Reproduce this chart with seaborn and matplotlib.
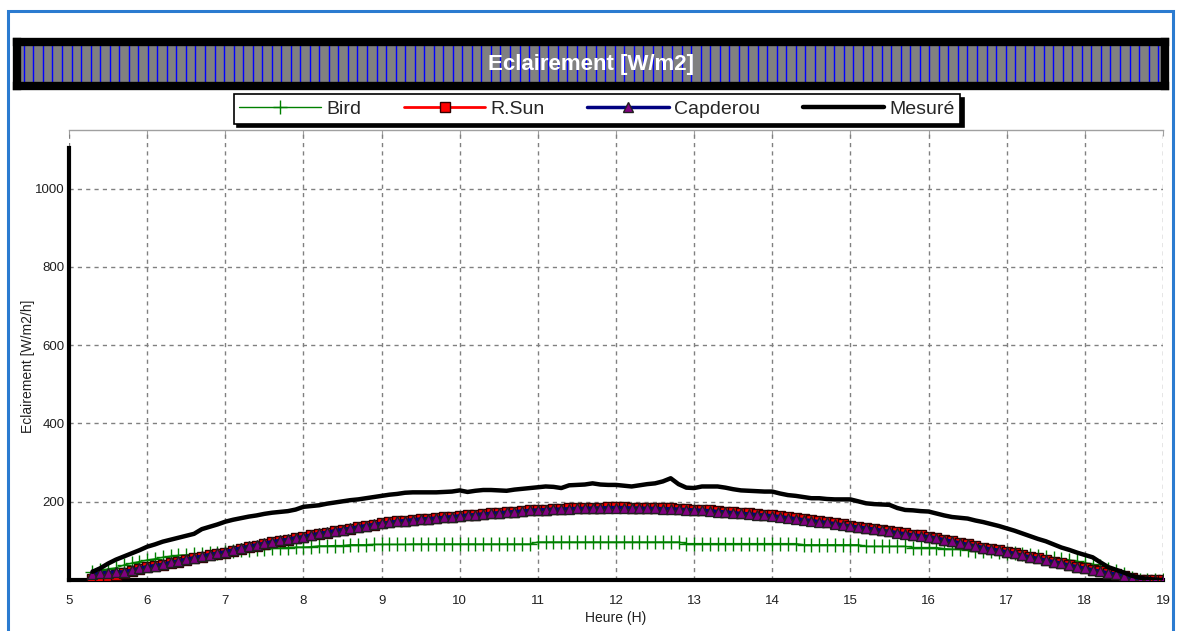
import numpy as np
import pandas as pd
import matplotlib
matplotlib.use("Agg")
import matplotlib.pyplot as plt
import seaborn as sns
from matplotlib.patches import Rectangle

# ---------------- data ----------------
hours = np.round(np.arange(5.3, 19.05, 0.1), 1)

bird = [21, 25, 28, 31, 38, 43, 47,
        51, 54, 58, 61, 63, 64, 66, 67, 69, 70,
        72, 74, 76, 77, 79, 80, 81, 82, 83, 84,
        84, 85, 87, 87, 88, 88, 90, 90, 90, 91,
        91, 91, 91, 91, 92, 92, 92, 92, 92, 92,
        92, 92, 92, 92, 92, 92, 92, 92, 92, 92,
        97, 97, 97, 97, 97, 97, 97, 97, 97, 97,
        97, 97, 97, 97, 97, 97, 97, 97, 97, 93,
        93, 93, 93, 93, 93, 93, 93, 93, 93, 93,
        93, 93, 93, 93, 90, 90, 90, 90, 90, 90,
        90, 90, 86, 86, 86, 86, 86, 86, 83, 83,
        83, 83, 80, 79, 78, 77, 75, 74, 73, 71,
        70, 68, 66, 64, 62, 59, 57, 54, 51, 48,
        44, 40, 35, 28, 22, 15, 5, 0, 0, 0,
        0]

rsun = [3, 6, 10, 14, 18, 23, 28,
        32, 35, 38, 43, 47, 51, 55, 59, 63, 67,
        70, 75, 80, 84, 88, 92, 96, 100, 103, 107,
        110, 114, 118, 121, 125, 128, 131, 135, 138, 141,
        145, 147, 150, 152, 154, 156, 157, 158, 160, 162,
        164, 166, 167, 169, 170, 172, 173, 175, 176, 178,
        179, 180, 181, 182, 183, 184, 184, 185, 185, 186,
        186, 186, 185, 185, 184, 184, 183, 183, 182, 181,
        180, 179, 178, 176, 175, 173, 171, 170, 168, 167,
        165, 163, 160, 158, 155, 153, 150, 148, 145, 142,
        139, 136, 134, 131, 128, 125, 122, 119, 116, 114,
        111, 107, 103, 99, 95, 91, 87, 83, 79, 76,
        72, 68, 63, 59, 55, 51, 47, 43, 38, 34,
        30, 26, 22, 18, 15, 11, 5, 0, 0, 0,
        0]

capderou = [15, 17, 19, 20, 21, 25, 30,
            34, 37, 40, 45, 49, 53, 57, 61, 65, 69,
            72, 77, 82, 86, 90, 94, 98, 101, 104, 108,
            111, 115, 119, 122, 126, 129, 132, 136, 139, 142,
            145, 147, 150, 152, 154, 156, 157, 158, 160, 162,
            164, 166, 167, 169, 170, 172, 173, 175, 176, 178,
            179, 180, 181, 181, 182, 183, 183, 184, 184, 185,
            185, 185, 184, 184, 183, 183, 182, 182, 181, 180,
            179, 178, 177, 175, 174, 172, 170, 169, 167, 166,
            164, 162, 159, 157, 154, 152, 149, 147, 144, 141,
            138, 135, 133, 130, 127, 124, 121, 118, 115, 113,
            111, 107, 103, 99, 95, 91, 87, 83, 79, 76,
            72, 68, 63, 59, 55, 51, 47, 43, 38, 34,
            30, 26, 22, 18, 15, 11, 5, 0, 0, 0,
            0]

mesure = [21, 30, 42, 52, 60, 68, 76,
          85, 91, 98, 103, 108, 113, 118, 130, 136, 142,
          149, 154, 158, 162, 165, 169, 172, 174, 176, 180,
          187, 189, 191, 195, 198, 201, 204, 206, 209, 212,
          215, 218, 220, 223, 224, 224, 224, 224, 225, 226,
          229, 225, 228, 230, 230, 229, 228, 231, 233, 235,
          237, 239, 238, 235, 242, 243, 244, 247, 244, 243,
          243, 241, 239, 242, 245, 247, 252, 260, 245, 236,
          235, 239, 239, 239, 236, 232, 229, 228, 227, 226,
          226, 221, 217, 215, 212, 209, 209, 207, 206, 206,
          206, 201, 196, 194, 193, 192, 184, 179, 178, 176,
          175, 170, 165, 161, 159, 157, 152, 148, 143, 138,
          132, 126, 119, 112, 105, 99, 91, 83, 77, 70,
          64, 58, 45, 33, 26, 19, 11, 6, 3, 1,
          0]

series_names = ["Bird", "R.Sun", "Capderou", "Mesuré"]
title_text = "Eclairement [W/m2]"
x_label = "Heure (H)"
y_label = "Eclairement [W/m2/h]"
x_ticks = list(range(5, 20))
y_ticks = [200, 400, 600, 800, 1000]

df = pd.DataFrame({"h": hours, "Bird": bird, "R.Sun": rsun,
                   "Capderou": capderou, "Mesuré": mesure})

# ---------------- style ----------------
sns.set_style("white")
plt.rcParams["font.family"] = ["Liberation Sans", "DejaVu Sans"]

W, H = 1179, 631
fig = plt.figure(figsize=(W / 100, H / 100), dpi=100)
fig.patch.set_facecolor("white")

def fx(px):
    return px / W

def fy(py):
    return 1 - py / H

# outer blue frame
fig.patches.append(Rectangle((fx(8), -0.02), fx(1173 - 8), fy(11) + 0.02,
                             transform=fig.transFigure, fill=False,
                             edgecolor="#2b7bd0", linewidth=2.2, zorder=0))

# title banner
bax = fig.add_axes([fx(17), fy(86), fx(1165 - 17), (86 - 42) / H])
bax.set_facecolor("#808080")
bax.set_xlim(0, 1)
bax.set_ylim(0, 1)
bax.vlines(np.linspace(0.006, 0.994, 120), 0, 1, colors="#0000ff", linewidth=1.0)
bax.set_xticks([])
bax.set_yticks([])
for s in bax.spines.values():
    s.set_color("black")
    s.set_linewidth(6)
bax.text(0.5, 0.48, title_text, ha="center", va="center", color="white",
         fontsize=16, fontweight="bold")

# main axes
ax = fig.add_axes([fx(69), fy(580), fx(1163 - 69), (580 - 130) / H])

sns.lineplot(data=df, x="h", y="Bird", ax=ax, color="#008000", linewidth=1.0,
             marker="+", markersize=10, markeredgecolor="#008000",
             markeredgewidth=1.0, label="Bird", zorder=3)
sns.lineplot(data=df, x="h", y="R.Sun", ax=ax, color="#ff0000", linewidth=2.0,
             marker="s", markersize=6.5, markerfacecolor="#ff0000",
             markeredgecolor="#300000", markeredgewidth=1.0, label="R.Sun", zorder=4)
sns.lineplot(data=df, x="h", y="Capderou", ax=ax, color="#000080", linewidth=2.5,
             marker="^", markersize=7.5, markerfacecolor="#800080",
             markeredgecolor="#202020", markeredgewidth=1.0, label="Capderou", zorder=5)
sns.lineplot(data=df, x="h", y="Mesuré", ax=ax, color="black", linewidth=3.2,
             label="Mesuré", zorder=6)

ax.set_xlim(5, 19)
ax.set_ylim(0, 1150)
ax.set_xticks(x_ticks)
ax.set_xticks(np.arange(5, 19.01, 0.25), minor=True)
ax.set_yticks(y_ticks)
ax.tick_params(axis="x", which="major", direction="out", length=5, width=1,
               labelsize=9.5, pad=6, colors="#404040", labelcolor="#202020")
ax.tick_params(axis="x", which="minor", direction="out", length=3, width=1, colors="#404040")
ax.tick_params(axis="y", which="major", direction="out", length=2, width=1,
               labelsize=9.5, pad=1, colors="#404040", labelcolor="#202020")
ax.grid(True, which="major", color="#808080", linestyle=(0, (3, 3)), linewidth=1.0)
ax.set_axisbelow(True)

ax.spines["left"].set_color("black")
ax.spines["left"].set_linewidth(3)
ax.spines["left"].set_bounds(0, 1105)
ax.spines["bottom"].set_color("black")
ax.spines["bottom"].set_linewidth(3)
ax.spines["top"].set_color("#a0a0a0")
ax.spines["top"].set_linewidth(1)
ax.spines["right"].set_visible(False)

sec = ax.secondary_xaxis("top")
sec.set_xticks(x_ticks)
sec.tick_params(direction="in", length=4, colors="#a0a0a0", labeltop=False)
sec.spines["top"].set_visible(False)

ax.set_xlabel(x_label, fontsize=10, labelpad=3, color="#202020")
ax.set_ylabel(y_label, fontsize=10, color="#202020")
ax.yaxis.set_label_coords(-0.031, 0.475)

handles, labels = ax.get_legend_handles_labels()
ax.get_legend().remove()
leg = fig.legend(handles, labels, loc="center", bbox_to_anchor=(fx(597), fy(109)),
                 ncol=4, frameon=True, fancybox=False,
                 shadow={"color": "black", "alpha": 1.0, "ox": 2.5, "oy": -2.5},
                 handlelength=4.2, handletextpad=0.25, columnspacing=2.2,
                 borderpad=0.3, prop={"size": 14})
leg.get_frame().set_edgecolor("black")
leg.get_frame().set_linewidth(1.2)

fig.savefig("out.png", dpi=100, facecolor="white")
